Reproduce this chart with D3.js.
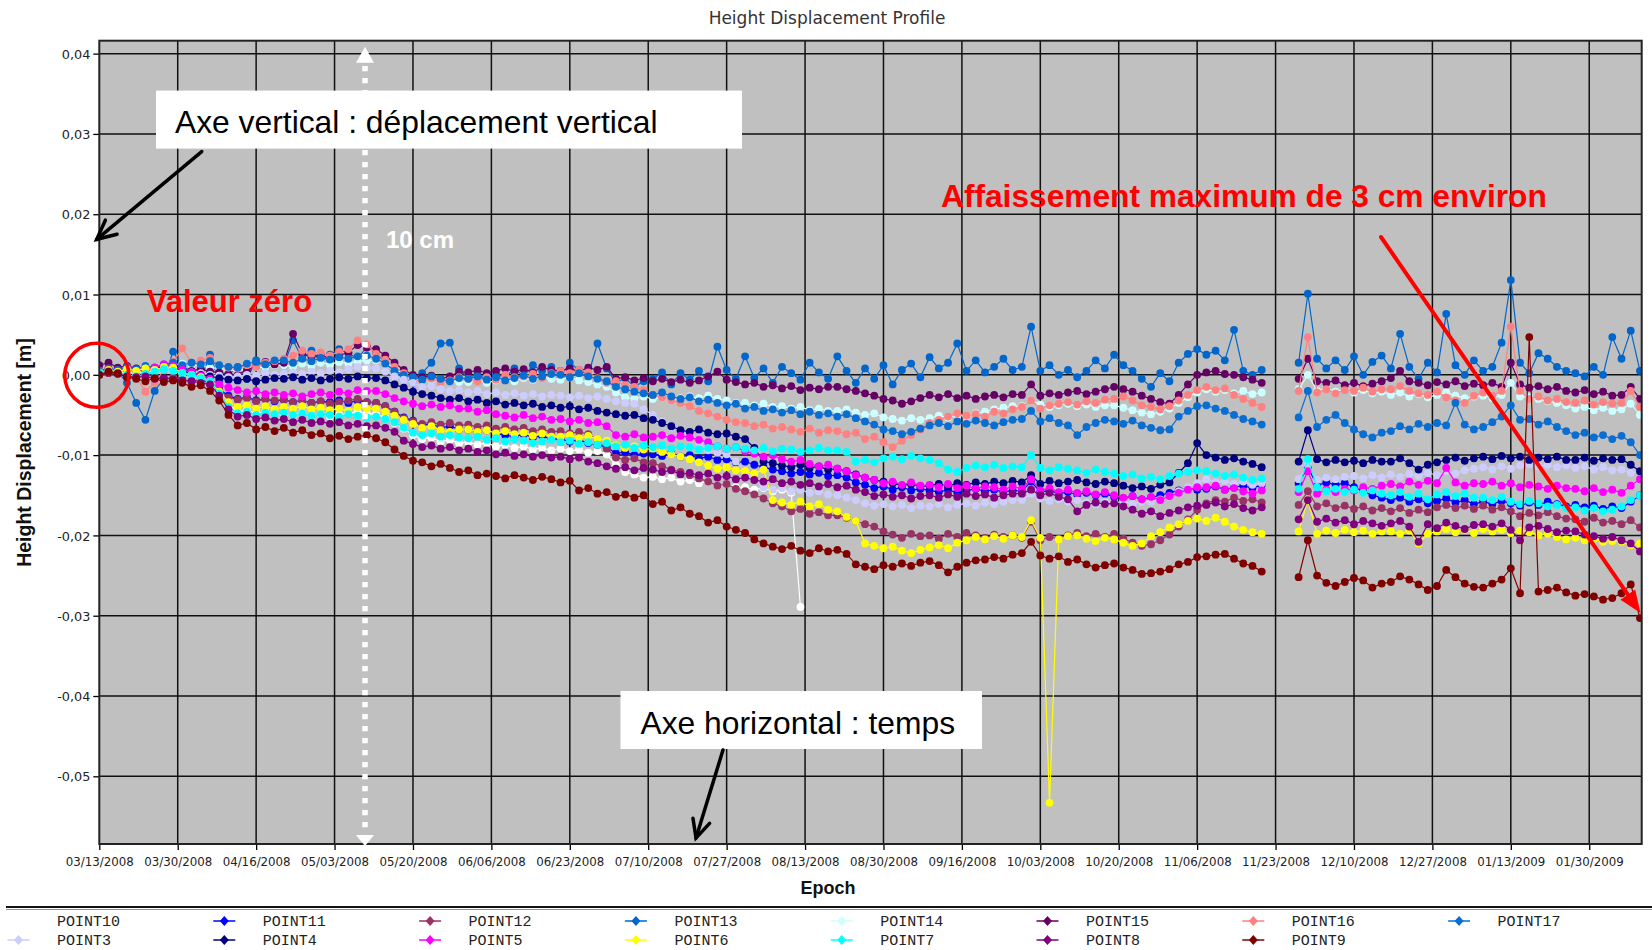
<!DOCTYPE html>
<html>
<head>
<meta charset="utf-8">
<script src="https://cdn.jsdelivr.net/npm/d3@7"></script>
<style>
  body { margin: 0; background: #fff; }
  svg { display: block; }
</style>
</head>
<body>
<svg id="chart" width="1652" height="950"></svg>
<script>
// ---- Survey epochs: one sample every two days from the first epoch ----
const firstEpoch = new Date(2008, 2, 13);
const lastEpoch = new Date(2009, 1, 10, 9);
const stepDays = 2;

// Date ticks (every 17 days) and height ticks
const xTickLabels = ["03/13/2008","03/30/2008","04/16/2008","05/03/2008","05/20/2008","06/06/2008","06/23/2008","07/10/2008","07/27/2008","08/13/2008","08/30/2008","09/16/2008","10/03/2008","10/20/2008","11/06/2008","11/23/2008","12/10/2008","12/27/2008","01/13/2009","01/30/2009"];
const yTickValues = [-0.05, -0.04, -0.03, -0.02, -0.01, 0, 0.01, 0.02, 0.03, 0.04];

// Height displacement per point, in millimetres (null = no solution)
const point3 = [0.2,0.4,0.3,0.5,0.4,0.6,0.5,0.8,0.7,0.5, 0.3,0.2,0.0,-0.1,-0.3,-0.2,0.0,-0.1,0.2,0.0, 0.1,0.3,0.1,0.4,0.2,0.5,0.3,0.7,1.0,0.9, 0.8,0.4,-0.2,-0.6,-1.0,-1.5,-1.4,-1.8,-2.0,-1.9, -2.2,-2.0,-2.4,-2.2,-2.5,-2.3,-2.6,-2.4,-2.7,-2.5, -2.6,-2.8,-2.6,-2.9,-2.7,-3.0,-3.3,-3.5,-3.6,-4.3, -5.0,-5.8,-6.5,-7.0,-7.5,-8.4,-9.4,-9.7,-9.9,-10.8, -12.0,-13.0,-14.0,-14.3,-14.1,-14.5,-14.3,-14.7,-14.5,-14.9, -15.0,-15.3,-15.6,-16.0,-16.3,-16.1,-16.4,-16.2,-16.6,-16.3, -16.4,-16.1,-16.5,-16.2,-16.0,-16.3,-15.9,-16.1,-15.8,-15.6, -15.6,-14.8,-15.4,-15.7,-15.5,-15.8,-15.6,-15.9,-16.1,-15.8, -16.0,-15.7,-16.1,-15.8,-15.8,-15.5,-15.1,-14.5,-14.0,-13.5, -13.0,-13.4,-13.2,-13.6,-13.3,-13.7,-13.5,null,null,null, -13.0,-11.2,-13.1,-12.8,-13.0,-12.7,-12.6,-12.9,-12.5,-12.8, -12.4,-12.7,-12.3,-12.6,-12.2,-12.5,-12.0,-12.3,-11.9,-11.7, -11.5,-11.8,-11.4,-11.7,-11.3,-11.1,-11.4,-11.2,-11.5,-11.3, -11.6,-11.4,-11.8,-11.5,-11.9,-11.8,-12.2,-12.0];
const point4 = [0.3,0.6,0.4,0.7,0.5,0.6,0.8,1.0,0.9,0.5, 0.2,0.0,-0.2,-0.4,-0.6,-0.7,-0.5,-0.8,-0.6,-0.4, -0.5,-0.3,-0.6,-0.4,-0.7,-0.5,-0.3,-0.5,-0.2,-0.4, -0.4,-0.7,-1.2,-1.6,-2.1,-2.4,-2.6,-2.9,-3.1,-2.9, -3.3,-3.1,-3.5,-3.3,-3.7,-3.5,-3.8,-3.6,-4.0,-3.8, -4.1,-3.9,-4.3,-4.1,-4.5,-4.7,-4.9,-5.1,-5.0,-5.4, -5.6,-6.0,-6.4,-6.9,-7.1,-6.8,-7.2,-7.4,-7.3,-7.7, -8.0,-9.1,-10.8,-11.0,-11.3,-11.5,-11.2,-11.6,-11.4,-11.8, -11.7,-12.0,-12.4,-12.8,-13.1,-13.3,-13.5,-13.8,-13.6,-13.9, -13.8,-13.6,-13.9,-13.5,-13.7,-13.4,-13.6,-13.3,-13.5,-13.2, -13.4,-12.5,-13.6,-13.2,-13.5,-13.3,-13.1,-13.4,-13.6,-13.3, -13.5,-13.8,-14.1,-13.9,-14.2,-13.7,-13.4,-12.2,-11.0,-8.5, -10.0,-10.3,-10.6,-10.4,-10.8,-11.1,-11.5,null,null,null, -10.8,-6.9,-10.5,-10.9,-10.6,-10.9,-10.7,-11.0,-10.6,-10.8, -10.8,-10.4,-11.0,-11.8,-11.2,-10.9,-10.6,-10.3,-10.7,-10.4, -10.2,-10.5,-10.1,-10.4,-10.2,-10.6,-10.3,-10.5,-10.2,-10.6, -10.6,-10.3,-10.7,-10.4,-10.6,-10.5,-11.2,-12.0];
const point5 = [0.3,0.6,0.4,0.8,0.5,0.7,0.9,1.3,1.1,0.6, 0.3,-0.1,-0.5,-1.2,-1.6,-1.9,-2.2,-2.0,-2.4,-2.2, -2.5,-2.3,-2.7,-2.4,-2.2,-2.5,-2.1,-2.3,-1.9,-2.0, -2.0,-2.4,-2.9,-3.3,-3.6,-3.9,-3.7,-4.0,-3.8,-4.2, -4.2,-4.6,-4.4,-4.9,-5.1,-5.3,-5.0,-5.4,-5.2,-5.6, -5.5,-5.8,-5.6,-6.0,-5.9,-6.4,-7.5,-7.7,-7.4,-7.8, -7.7,-7.5,-7.9,-7.6,-7.8,-8.1,-8.4,-8.9,-9.2,-9.0, -9.5,-9.8,-10.2,-10.0,-10.5,-10.8,-10.6,-11.1,-11.4,-11.2, -11.7,-12.0,-12.5,-12.8,-13.1,-13.5,-13.3,-13.7,-13.4,-13.8, -13.7,-14.0,-13.6,-14.1,-13.8,-14.2,-13.9,-14.0,-14.3,-13.9, -14.2,-13.0,-14.4,-14.1,-14.6,-14.3,-14.7,-14.5,-14.9,-14.6, -15.0,-15.3,-15.1,-15.5,-15.2,-15.6,-15.1,-14.7,-14.3,-14.0, -14.0,-13.8,-14.3,-14.1,-14.5,-14.8,-14.4,null,null,null, -14.6,-12.0,-14.8,-14.3,-14.6,-14.2,-14.4,-14.0,-14.2,-13.8, -13.6,-13.9,-13.3,-13.7,-13.2,-13.5,-11.6,-13.4,-13.8,-13.5, -13.6,-13.3,-13.8,-13.5,-14.0,-13.7,-13.9,-14.2,-13.8,-14.1, -14.2,-14.5,-14.1,-14.6,-14.3,-14.7,-13.8,-13.0];
const point6 = [0.3,0.6,0.4,0.7,0.5,0.8,0.6,1.0,0.9,0.2, 0.0,-0.3,-0.8,-2.1,-3.4,-4.0,-3.8,-4.2,-3.9,-4.3, -4.0,-4.2,-3.9,-4.3,-4.1,-4.4,-4.2,-4.5,-4.0,-4.2, -4.2,-4.6,-5.1,-5.6,-6.1,-6.6,-6.4,-6.9,-7.1,-6.8, -6.8,-7.1,-6.9,-7.3,-7.0,-7.4,-7.2,-7.6,-7.3,-7.7, -7.7,-7.5,-7.9,-7.6,-8.0,-8.2,-8.8,-9.1,-8.9,-9.3, -9.2,-9.6,-9.9,-10.2,-10.5,-10.9,-11.3,-11.7,-11.5,-11.9, -12.0,-12.3,-11.8,-15.6,-15.9,-16.2,-15.8,-16.4,-16.1,-16.8, -17.0,-17.7,-18.2,-21.0,-21.3,-21.6,-21.4,-21.9,-22.2,-21.8, -21.5,-21.2,-21.6,-20.9,-20.6,-20.2,-20.5,-20.1,-20.4,-20.0, -20.2,-18.1,-20.3,-53.3,-20.5,-20.1,-20.0,-20.4,-20.7,-20.3, -20.5,-20.9,-21.3,-21.0,-20.1,-19.6,-19.0,-18.6,-18.2,-17.9, -18.2,-17.8,-18.3,-18.9,-19.3,-19.6,-19.8,null,null,null, -19.5,-15.6,-19.8,-19.4,-19.7,-19.3,-19.6,-19.4,-19.8,-19.5, -19.5,-19.8,-19.4,-21.0,-19.8,-19.5,-19.2,-19.6,-19.3,-19.7, -19.2,-19.5,-19.3,-19.7,-19.4,-19.6,-20.0,-19.8,-20.2,-20.5, -20.3,-20.6,-20.4,-20.8,-20.7,-20.8,-21.2,-21.0];
const point7 = [0.3,0.5,0.2,0.0,-0.2,0.1,0.4,0.7,0.5,0.2, 0.0,-0.4,-0.8,-2.3,-4.0,-4.8,-4.6,-5.0,-4.7,-4.9, -4.7,-5.0,-4.8,-5.1,-4.9,-5.0,-5.2,-4.9,-5.1,-5.3, -5.2,-5.5,-5.9,-6.6,-7.2,-7.5,-7.3,-7.7,-7.5,-7.8, -7.9,-7.7,-8.1,-7.9,-8.3,-8.0,-8.2,-8.5,-8.3,-8.1, -8.4,-8.2,-8.6,-8.4,-8.7,-8.5,-8.9,-8.7,-9.1,-8.8, -9.0,-8.8,-9.2,-8.9,-9.0,-9.3,-9.1,-8.9,-9.2,-9.0, -9.2,-9.4,-9.1,-9.5,-9.2,-9.3,-9.6,-9.4,-9.1,-9.4, -9.4,-9.6,-10.8,-10.6,-10.9,-10.4,-10.2,-10.5,-10.1,-10.4, -10.6,-11.0,-11.8,-12.1,-11.6,-11.3,-11.5,-11.2,-11.6,-11.4, -11.5,-10.0,-11.6,-11.9,-11.5,-11.7,-11.9,-12.2,-11.8,-12.1, -12.3,-12.6,-12.4,-12.9,-12.7,-13.0,-12.6,-12.3,-12.1,-11.9, -12.0,-12.3,-12.6,-12.4,-12.8,-13.1,-12.9,null,null,null, -14.2,-10.5,-14.0,-14.5,-14.2,-14.6,-14.3,-14.7,-14.4,-14.8, -15.0,-14.6,-15.2,-14.8,-15.5,-14.9,-14.6,-15.1,-14.8,-15.3, -15.3,-15.6,-15.2,-15.8,-16.1,-15.7,-16.0,-16.4,-16.2,-16.6, -16.5,-16.9,-16.6,-17.0,-16.8,-16.4,-15.6,-15.0];
const point8 = [0.0,0.3,0.1,-0.2,-0.3,-0.2,-0.5,-0.4,-0.6,-0.7, -0.8,-1.0,-1.2,-2.6,-4.3,-5.2,-5.0,-5.5,-5.3,-5.7, -5.5,-5.9,-5.6,-6.0,-5.8,-6.1,-5.9,-6.3,-6.1,-6.4, -6.3,-6.6,-7.1,-8.2,-8.6,-9.0,-8.8,-9.2,-9.0,-9.4, -9.2,-9.6,-9.4,-9.9,-9.7,-10.1,-9.9,-10.2,-10.0,-10.3, -10.2,-10.5,-10.3,-10.8,-11.0,-11.4,-11.7,-11.5,-11.9,-11.6, -11.8,-12.1,-11.9,-12.4,-12.2,-12.5,-12.3,-12.8,-12.6,-13.0, -12.8,-13.1,-13.3,-13.0,-13.5,-13.3,-13.7,-13.5,-13.9,-13.6, -14.0,-13.8,-14.3,-14.6,-15.1,-14.9,-15.2,-15.0,-15.4,-15.1, -15.0,-15.3,-14.9,-15.2,-14.8,-15.1,-14.9,-15.3,-15.0,-14.8, -14.8,-14.3,-15.0,-14.7,-15.2,-15.5,-17.0,-16.2,-15.9,-16.1, -16.0,-16.4,-16.8,-17.3,-17.0,-17.6,-17.2,-16.9,-16.5,-16.3, -16.2,-15.9,-16.4,-16.1,-16.6,-16.9,-16.5,null,null,null, -18.0,-15.6,-18.3,-17.9,-18.4,-18.1,-18.6,-18.2,-18.5,-18.8, -18.5,-18.2,-18.9,-20.8,-18.6,-19.1,-18.4,-18.8,-19.2,-18.7, -18.6,-18.9,-18.5,-19.3,-20.6,-19.0,-18.8,-19.2,-19.6,-19.4, -19.5,-19.9,-20.1,-20.4,-20.2,-20.6,-21.0,-22.0];
const point9 = [0.0,0.4,0.2,-0.3,-0.5,-0.8,-0.4,-0.9,-0.7,-1.0, -1.5,-1.3,-2.0,-3.2,-5.0,-6.3,-6.0,-6.8,-6.5,-7.0, -6.6,-7.2,-6.9,-7.5,-7.3,-7.9,-7.6,-8.0,-7.7,-7.5, -7.9,-8.4,-9.3,-10.1,-10.7,-10.9,-11.4,-11.1,-11.6,-12.1, -11.9,-12.5,-12.3,-12.6,-12.9,-12.5,-12.8,-13.1,-12.7,-13.0, -13.4,-13.2,-14.4,-14.1,-14.8,-14.6,-15.2,-14.9,-15.3,-15.0, -16.1,-15.8,-16.9,-16.5,-17.3,-17.6,-18.4,-18.1,-18.9,-19.3, -19.7,-20.5,-21.0,-21.4,-21.7,-21.3,-21.9,-22.2,-21.6,-22.0, -21.8,-22.3,-23.6,-23.9,-24.2,-23.7,-23.9,-23.5,-23.8,-23.4, -23.2,-23.7,-24.6,-23.9,-23.4,-23.1,-23.0,-22.7,-22.9,-22.4, -22.2,-20.8,-22.5,-22.9,-22.6,-23.3,-23.0,-23.6,-24.0,-23.7, -23.5,-24.0,-24.3,-24.8,-24.7,-24.5,-24.2,-23.6,-23.3,-22.7, -22.6,-22.4,-22.3,-22.9,-23.5,-23.8,-24.5,null,null,null, -25.2,-20.6,-25.0,-25.9,-26.3,-25.8,-25.3,-25.6,-26.5,-26.0, -25.8,-25.1,-25.5,-26.1,-26.8,-26.3,-24.3,-25.2,-26.0,-26.4, -26.5,-26.0,-25.5,-24.1,-27.2,4.7,-27.0,-26.8,-26.5,-27.1, -27.5,-27.3,-27.6,-28.0,-27.8,-27.2,-26.1,-30.3];
const point10 = [0.1,0.3,0.2,0.4,0.3,0.5,0.4,0.6,0.5,0.2, 0.0,-0.4,-0.9,-1.8,-3.6,-4.6,-4.4,-4.8,-4.6,-4.9, -4.8,-5.0,-4.7,-5.1,-4.9,-5.2,-5.0,-4.8,-4.6,-4.8, -4.9,-5.3,-6.0,-6.7,-7.5,-8.0,-7.8,-8.3,-8.1,-8.5, -8.4,-8.7,-8.5,-8.9,-8.7,-9.1,-8.9,-9.3,-9.1,-9.4, -9.2,-9.5,-9.3,-9.7,-9.5,-9.9,-11.2,-12.1,-12.4,-12.8, -12.7,-13.0,-12.8,-13.3,-13.1,-13.5,-13.3,-13.8,-13.6,-14.0, -14.0,-14.3,-14.1,-14.5,-14.3,-14.7,-28.9];
const point11 = [0.2,0.5,0.3,0.6,0.4,0.7,0.6,1.0,0.8,0.4, 0.2,-0.3,-0.9,-1.8,-2.6,-3.0,-2.8,-3.2,-3.0,-3.3, -3.1,-3.4,-3.2,-3.5,-3.3,-3.4,-3.2,-3.5,-3.2,-3.4, -3.5,-3.9,-4.6,-5.3,-5.7,-6.3,-6.1,-6.6,-6.4,-6.8, -6.8,-7.1,-6.9,-7.3,-7.5,-7.7,-7.4,-7.8,-7.6,-8.0, -8.0,-8.3,-8.1,-8.5,-8.7,-9.0,-9.8,-9.6,-10.0,-9.8, -9.9,-10.1,-9.8,-10.2,-10.0,-10.4,-10.2,-10.6,-10.5,-10.9, -10.8,-11.2,-11.5,-11.8,-12.0,-12.3,-12.1,-12.4,-12.2,-12.6, -12.5,-12.8,-13.4,-13.7,-14.1,-13.9,-14.3,-14.0,-14.4,-14.2, -14.4,-14.6,-14.3,-14.7,-14.4,-14.2,-14.5,-14.3,-14.6,-14.4, -14.5,-13.3,-14.6,-14.4,-14.8,-14.6,-14.9,-14.7,-15.0,-14.8, -15.2,-15.4,-15.1,-15.5,-15.3,-15.0,-14.7,-14.4,-14.1,-14.3, -14.2,-13.9,-14.3,-14.0,-13.8,-14.1,-13.7,null,null,null, -13.5,-11.5,-13.8,-13.4,-13.7,-13.5,-14.0,-14.5,-15.0,-15.3, -15.6,-15.3,-15.8,-15.5,-16.0,-15.7,-15.4,-15.9,-15.6,-16.1, -15.8,-16.1,-15.7,-16.0,-16.3,-15.9,-16.2,-15.8,-16.1,-16.4, -16.2,-16.5,-16.3,-16.7,-16.4,-16.6,-15.8,-15.0];
const point12 = [0.0,0.2,0.4,-0.1,-0.3,0.1,-0.2,-0.5,-0.3,-0.6, -0.8,-0.6,-1.1,-1.9,-2.8,-3.1,-2.9,-3.3,-3.0,-3.2, -3.1,-3.4,-3.2,-3.5,-3.3,-3.6,-3.4,-3.2,-3.0,-3.4, -3.5,-3.9,-4.6,-5.4,-5.8,-6.1,-5.9,-6.2,-6.0,-6.3, -6.2,-6.5,-6.3,-6.7,-6.5,-6.8,-6.6,-7.0,-6.8,-7.1, -7.0,-7.3,-7.1,-7.4,-8.1,-9.2,-10.3,-10.6,-10.4,-10.9, -11.0,-11.4,-11.8,-12.1,-12.5,-12.9,-13.3,-13.8,-13.6,-14.2, -14.5,-14.9,-15.4,-16.0,-16.4,-17.0,-16.7,-17.3,-17.1,-17.5, -17.5,-17.8,-18.2,-18.6,-18.9,-19.5,-19.9,-20.3,-19.8,-20.1, -20.0,-20.4,-19.8,-20.2,-19.7,-20.0,-20.3,-19.9,-20.2,-20.0, -20.3,-18.3,-20.6,-20.2,-20.4,-20.0,-19.7,-20.1,-19.8,-20.2, -19.8,-20.4,-20.9,-21.3,-21.1,-20.6,-19.9,-18.9,-18.0,-16.8, -16.0,-15.6,-15.8,-15.3,-15.7,-15.5,-15.9,null,null,null, -16.2,-14.5,-16.4,-16.0,-16.6,-16.3,-16.7,-16.4,-16.9,-16.6, -17.0,-16.6,-17.2,-16.8,-17.1,-16.5,-16.2,-16.6,-16.3,-16.7, -16.3,-16.8,-16.5,-17.0,-17.6,-17.2,-17.5,-17.1,-17.6,-17.9, -18.0,-18.3,-17.8,-18.4,-18.2,-18.6,-18.1,-19.0];
const point13 = [0.2,0.8,0.4,-1.0,-3.5,-5.6,-2.0,-0.5,2.9,1.0, 0.5,-0.6,2.5,-0.8,0.0,1.0,-0.5,1.8,0.9,1.5, 1.2,4.3,2.0,3.0,1.6,2.5,3.2,2.7,2.0,3.5, 2.8,1.5,0.5,-0.5,-1.0,0.2,1.5,3.9,4.0,0.8, -0.5,0.3,-0.8,0.0,-0.3,0.8,-0.2,1.2,0.5,1.0, -0.2,1.5,0.6,0.0,3.9,0.8,-1.0,-0.4,-1.5,-0.8, -0.5,0.3,-1.2,0.2,-0.6,0.5,-0.8,3.5,0.6,-0.5, 2.3,-0.4,0.8,-1.0,1.0,0.2,-0.6,1.5,0.3,-0.5, 2.3,0.5,-1.0,0.8,-0.5,1.2,-1.2,0.6,1.4,-0.3, 2.2,0.8,1.5,3.9,0.5,1.8,0.3,1.0,2.0,0.6, 1.0,6.0,0.5,1.2,0.0,0.6,-0.3,0.5,1.8,0.8, 2.5,1.2,0.5,-0.5,-1.5,0.2,-0.8,1.5,2.6,3.2, 2.5,3.0,1.8,5.6,0.5,0.0,0.6,null,null,null, 1.5,10.1,2.0,0.8,1.8,0.6,2.3,0.0,1.6,2.4, 0.8,5.1,1.0,-0.5,1.5,0.3,7.6,1.2,0.0,1.8, 0.5,1.0,4.0,11.8,1.5,0.2,2.7,2.0,1.0,0.5, 0.2,-0.2,1.0,0.0,4.7,2.0,5.5,0.5];
const point14 = [0.2,0.4,0.1,0.3,0.2,0.5,0.7,1.0,1.2,1.4, 1.3,1.1,0.9,0.8,0.6,0.5,0.8,1.0,0.9,1.2, 1.2,1.0,1.4,1.1,1.5,1.3,1.6,1.4,1.7,1.8, 1.8,1.5,0.8,0.1,-0.5,-0.8,-0.6,-1.0,-0.7,-0.9, -0.9,-0.6,-1.0,-0.7,-0.5,-0.8,-0.4,-0.6,-0.3,-0.5, -0.6,-0.3,-0.7,-0.9,-1.2,-1.5,-2.2,-2.8,-3.0,-2.7, -3.0,-2.8,-3.2,-2.9,-2.7,-2.9,-2.6,-3.0,-3.2,-3.5, -3.5,-3.8,-3.6,-4.0,-3.9,-4.2,-4.0,-4.4,-4.2,-4.5, -4.5,-4.3,-4.7,-5.0,-4.8,-5.3,-5.5,-5.7,-5.4,-5.6, -5.4,-5.1,-5.3,-5.0,-5.2,-4.8,-4.6,-4.3,-4.1,-3.9, -3.9,-3.2,-3.7,-4.0,-3.8,-3.6,-3.9,-3.7,-4.0,-3.8, -3.8,-4.1,-4.4,-4.7,-4.9,-4.6,-4.2,-3.5,-2.8,-2.2, -1.8,-2.1,-1.9,-2.3,-2.0,-2.4,-2.2,null,null,null, -1.8,0.0,-2.0,-1.7,-2.1,-1.8,-2.2,-1.9,-2.3,-2.1, -2.5,-2.2,-2.7,-2.4,-2.8,-2.5,-2.2,-2.6,-2.9,-2.7, -2.6,-2.9,-2.5,-1.0,-2.7,-2.8,-3.0,-3.3,-3.5,-3.8, -4.2,-4.0,-4.4,-4.1,-4.5,-4.3,-3.6,-5.0];
const point15 = [1.2,1.5,0.9,1.1,0.8,0.6,0.9,1.2,1.0,0.7, 0.5,0.7,0.4,0.3,0.1,0.0,0.6,1.1,1.6,1.3, 1.5,5.1,2.6,2.2,2.5,2.0,2.4,2.8,3.7,3.4, 3.2,2.4,1.5,0.6,0.0,-0.3,-0.1,-0.5,-0.2,0.4, 0.3,0.6,0.2,0.5,0.8,0.4,0.7,0.3,1.0,0.6, 0.5,0.8,0.4,0.9,0.6,1.0,-0.5,-0.3,-0.7,-0.4, -0.8,-0.5,-0.9,-0.6,-1.0,-0.7,-0.2,0.4,-0.6,-0.9, -1.2,-1.0,-1.5,-1.3,-1.7,-1.4,-1.9,-1.6,-1.8,-1.5, -1.5,-1.8,-2.0,-2.3,-2.6,-3.0,-3.2,-3.6,-3.3,-2.9, -2.5,-2.8,-2.4,-2.9,-2.6,-3.0,-2.7,-2.5,-2.8,-2.4, -2.5,-1.2,-2.6,-2.3,-2.5,-2.2,-2.0,-2.4,-2.1,-1.8, -1.5,-1.8,-2.1,-2.6,-3.0,-3.4,-3.6,-2.5,-1.2,0.0, 0.3,0.5,0.1,0.0,-0.3,-0.6,-1.0,null,null,null, -0.5,2.0,-0.8,-1.0,-0.7,-1.3,-1.0,-1.4,-1.1,-0.8, -0.4,0.5,-0.8,-1.0,-1.3,-0.9,-1.2,-0.8,-1.4,-1.1, -1.3,-1.0,-1.5,1.5,-1.2,-1.6,-1.4,-1.8,-1.5,-2.0, -2.2,-1.9,-2.4,-2.1,-2.6,-2.5,-1.5,-3.0];
const point16 = [0.5,0.7,0.3,0.0,-0.3,-2.1,-1.0,0.6,1.6,3.3, 1.5,1.8,2.1,1.2,0.9,0.8,1.2,1.0,1.5,1.7, 2.0,2.4,3.0,2.6,2.8,2.4,2.9,3.2,4.3,3.8, 2.6,1.9,1.0,0.2,-0.6,-0.8,-0.5,-1.0,-0.7,-0.3, -0.5,-0.8,-0.3,-0.6,0.0,-0.3,-0.2,0.1,-0.4,0.2, 0.5,0.2,0.6,0.3,-0.4,-1.0,-0.8,-1.3,-1.5,-1.9, -2.5,-2.8,-3.2,-3.5,-3.9,-4.5,-4.8,-5.2,-5.6,-5.9, -6.0,-6.4,-6.2,-6.7,-6.5,-6.8,-7.1,-6.7,-7.2,-6.9, -7.0,-7.4,-7.2,-8.0,-7.7,-8.4,-9.0,-8.2,-7.5,-6.8, -6.0,-5.6,-5.2,-4.8,-5.1,-4.9,-5.2,-4.6,-4.8,-4.3, -4.0,-3.2,-4.2,-3.8,-3.6,-3.4,-3.7,-3.3,-3.5,-3.1, -3.0,-2.7,-3.2,-3.8,-4.0,-4.3,-3.9,-3.2,-2.5,-1.9, -1.5,-1.9,-1.7,-2.5,-3.0,-3.5,-4.0,null,null,null, -2.0,4.7,-2.2,-1.8,-2.3,-1.9,-2.0,-1.6,-2.1,-1.8, -1.8,-1.4,-2.0,-2.3,-2.5,-2.1,-2.8,-3.2,-3.5,-2.6, -2.2,-2.6,-2.0,6.0,-2.0,-3.0,-2.7,-3.2,-3.0,-3.4, -3.5,-3.2,-3.7,-3.4,-3.6,-3.5,-2.0,-4.0];
const point17 = [0.5,0.8,0.6,1.0,0.7,1.1,0.9,1.3,1.5,1.2, 1.5,1.3,1.7,1.2,1.0,0.9,1.4,1.6,1.3,1.8, 1.8,1.5,2.0,1.7,2.1,1.9,2.2,2.0,2.3,2.4, 2.0,1.4,0.5,0.0,-0.3,-0.6,-0.2,-0.5,-0.8,-0.4, -0.5,-0.2,-0.6,-0.3,-0.7,-0.4,-0.1,-0.5,-0.2,0.1, 0.0,-0.3,0.2,-0.2,-0.5,-0.8,-1.5,-1.8,-2.1,-2.3, -2.5,-2.2,-2.7,-3.0,-2.8,-3.3,-3.1,-3.5,-3.8,-3.6, -4.2,-4.0,-4.5,-4.3,-4.7,-4.4,-4.9,-4.6,-5.0,-4.8, -5.2,-4.9,-5.4,-5.8,-6.2,-6.8,-7.0,-7.4,-7.1,-6.7, -6.3,-6.0,-6.4,-5.8,-6.1,-5.7,-6.0,-6.3,-5.9,-5.6, -5.5,-4.5,-5.8,-5.4,-6.0,-6.3,-7.5,-6.5,-6.0,-5.6, -5.8,-6.1,-5.7,-6.3,-6.6,-6.9,-6.8,-5.2,-4.5,-3.9, -3.8,-4.2,-4.5,-5.0,-5.5,-5.8,-6.2,null,null,null, -5.3,-2.0,-6.5,-5.6,-5.0,-6.0,-6.8,-7.4,-7.8,-7.2, -7.0,-6.4,-6.8,-6.1,-6.5,-6.0,-6.3,-3.5,-6.2,-6.8, -6.5,-5.9,-5.2,-3.8,-5.6,-5.5,-6.2,-5.8,-6.5,-7.0, -7.5,-7.2,-7.8,-7.5,-8.0,-7.6,-8.4,-10.0];

// Series in drawing / legend order
const seriesNames = ["POINT10","POINT11","POINT12","POINT13","POINT14","POINT15","POINT16","POINT17","POINT3","POINT4","POINT5","POINT6","POINT7","POINT8","POINT9"];
const seriesColors = ["#FFFFFF","#0000FF","#993366","#0066CC","#CCFFFF","#660066","#FF8080","#0A6ED1","#CCCCFF","#000080","#FF00FF","#FFFF00","#00FFFF","#800080","#800000"];
const seriesValues = [point10, point11, point12, point13, point14, point15, point16, point17, point3, point4, point5, point6, point7, point8, point9];

// ---- Layout ----
const svg = d3.select("#chart");
const W = 1652, H = 950;
const plot = { left: 99.3, right: 1641.7, top: 40.7, bottom: 844 };

const parseTick = d3.timeParse("%m/%d/%Y");
const xTicks = xTickLabels.map(parseTick);

const x = d3.scaleTime().domain([firstEpoch, lastEpoch]).range([plot.left, plot.right]);
const y = d3.scaleLinear().domain([-0.05843, 0.04161]).range([plot.bottom, plot.top]);

const fmtHeight = v => (v < -1e-9 ? "-" : "") + Math.abs(v).toFixed(2).replace(".", ",");

svg.append("rect").attr("width", W).attr("height", H).attr("fill", "#fff");

// Title
svg.append("text")
  .attr("x", 827).attr("y", 24)
  .attr("text-anchor", "middle")
  .attr("font-family", "DejaVu Sans").attr("font-size", 17)
  .attr("fill", "#333")
  .text("Height Displacement Profile");

// Plot area
svg.append("rect")
  .attr("x", plot.left).attr("y", plot.top)
  .attr("width", plot.right - plot.left).attr("height", plot.bottom - plot.top)
  .attr("fill", "#c0c0c0");

// Grid
const grid = svg.append("g").attr("stroke", "#111").attr("stroke-width", 1.5);
grid.selectAll("line.h").data(yTickValues).join("line")
  .attr("x1", plot.left).attr("x2", plot.right)
  .attr("y1", d => y(d)).attr("y2", d => y(d));
grid.selectAll("line.v").data(xTicks.slice(1)).join("line")
  .attr("x1", d => x(d)).attr("x2", d => x(d))
  .attr("y1", plot.top).attr("y2", plot.bottom);

// Axes
const gx = svg.append("g")
  .attr("transform", `translate(0,${plot.bottom})`)
  .call(d3.axisBottom(x).tickValues(xTicks).tickFormat(d3.timeFormat("%m/%d/%Y")).tickSize(6));
gx.select(".domain").remove();
gx.attr("font-family", "DejaVu Sans").attr("font-size", 11.8);
gx.selectAll("line").attr("stroke", "#000").attr("stroke-width", 1.3);
gx.selectAll("text").attr("y", 21.5).attr("dy", 0).attr("fill", "#222");

const gy = svg.append("g")
  .attr("transform", `translate(${plot.left},0)`)
  .call(d3.axisLeft(y).tickValues(yTickValues).tickFormat(fmtHeight).tickSize(6).tickPadding(3));
gy.select(".domain").remove();
gy.attr("font-family", "DejaVu Sans").attr("font-size", 12.8);
gy.selectAll("line").attr("stroke", "#000").attr("stroke-width", 1.3);
gy.selectAll("text").attr("dy", "0.36em").attr("fill", "#222");

// Axis titles
svg.append("text")
  .attr("transform", "translate(30.5,452.5) rotate(-90)")
  .attr("text-anchor", "middle")
  .attr("font-family", "Liberation Sans").attr("font-weight", "bold").attr("font-size", 19.5)
  .attr("fill", "#111")
  .text("Height Displacement [m]");
svg.append("text")
  .attr("x", 828).attr("y", 894)
  .attr("text-anchor", "middle")
  .attr("font-family", "Liberation Sans").attr("font-weight", "bold").attr("font-size", 18)
  .attr("fill", "#111")
  .text("Epoch");

// Series
svg.append("clipPath").attr("id", "plotClip")
  .append("rect")
  .attr("x", plot.left).attr("y", plot.top)
  .attr("width", plot.right - plot.left).attr("height", plot.bottom - plot.top);

const seriesLayer = svg.append("g").attr("clip-path", "url(#plotClip)");
const line = d3.line()
  .defined(d => d.v !== null)
  .x(d => x(d.date))
  .y(d => y(d.v / 1000));

seriesValues.forEach((vals, k) => {
  const pts = vals.map((v, i) => ({ date: d3.timeDay.offset(firstEpoch, i * stepDays), v }));
  const g = seriesLayer.append("g");
  g.append("path")
    .datum(pts)
    .attr("fill", "none")
    .attr("stroke", seriesColors[k])
    .attr("stroke-width", 1.2)
    .attr("d", line);
  g.selectAll("circle")
    .data(pts.filter(d => d.v !== null))
    .join("circle")
    .attr("cx", d => x(d.date))
    .attr("cy", d => y(d.v / 1000))
    .attr("r", 3.9)
    .attr("fill", seriesColors[k]);
});

// Plot frame
svg.append("rect")
  .attr("x", plot.left).attr("y", plot.top)
  .attr("width", plot.right - plot.left).attr("height", plot.bottom - plot.top)
  .attr("fill", "none").attr("stroke", "#222").attr("stroke-width", 2);

// ---- Legend ----
svg.append("line").attr("x1", 6).attr("x2", W).attr("y1", 907).attr("y2", 907)
  .attr("stroke", "#111").attr("stroke-width", 1.8);
svg.append("line").attr("x1", 6).attr("x2", W).attr("y1", 909.5).attr("y2", 909.5)
  .attr("stroke", "#9a9280").attr("stroke-width", 1.2);

const legendRowsOrder = [
  ["POINT10","POINT11","POINT12","POINT13","POINT14","POINT15","POINT16","POINT17"],
  ["POINT3","POINT4","POINT5","POINT6","POINT7","POINT8","POINT9"]
];
const legend = svg.append("g");
legendRowsOrder.forEach((row, r) => {
  row.forEach((name, c) => {
    const color = seriesColors[seriesNames.indexOf(name)];
    const cx = 18.5 + 205.8 * c;
    const cy = 921 + 19 * r;
    const item = legend.append("g").attr("transform", `translate(${cx},${cy})`);
    item.append("line").attr("x1", -11).attr("x2", 11).attr("stroke", color).attr("stroke-width", 1.5);
    item.append("path").attr("d", "M0,-5L4.5,0L0,5L-4.5,0Z").attr("fill", color);
    item.append("text")
      .attr("x", 38.5).attr("y", 4.5)
      .attr("font-family", "Liberation Mono").attr("font-size", 15)
      .attr("fill", "#222")
      .text(name);
  });
});

// ---- Annotations ----
const notes = svg.append("g");

function arrow(g, x1, y1, x2, y2, color, width, headLen, spread, filled) {
  const a = Math.atan2(y2 - y1, x2 - x1);
  const p1 = [x2 - headLen * Math.cos(a - spread), y2 - headLen * Math.sin(a - spread)];
  const p2 = [x2 - headLen * Math.cos(a + spread), y2 - headLen * Math.sin(a + spread)];
  const back = filled ? headLen * 0.8 : 0;
  g.append("line")
    .attr("x1", x1).attr("y1", y1)
    .attr("x2", x2 - back * Math.cos(a)).attr("y2", y2 - back * Math.sin(a))
    .attr("stroke", color).attr("stroke-width", width).attr("stroke-linecap", "round");
  if (filled) {
    g.append("path").attr("d", `M${x2},${y2}L${p1[0]},${p1[1]}L${p2[0]},${p2[1]}Z`).attr("fill", color);
  } else {
    g.append("path").attr("d", `M${p1[0]},${p1[1]}L${x2},${y2}L${p2[0]},${p2[1]}`)
      .attr("fill", "none").attr("stroke", color).attr("stroke-width", width)
      .attr("stroke-linejoin", "miter").attr("stroke-linecap", "round");
  }
}

// Vertical 10 cm scale marker
notes.append("line")
  .attr("x1", 365).attr("x2", 365).attr("y1", 66).attr("y2", 834)
  .attr("stroke", "#fff").attr("stroke-width", 5.5).attr("stroke-dasharray", "5.3,6.7");
notes.append("path").attr("d", "M365,46.7L374,62.7L356,62.7Z").attr("fill", "#fff");
notes.append("path").attr("d", "M365,846L374,835L356,835Z").attr("fill", "#fff");
notes.append("text")
  .attr("x", 386).attr("y", 248)
  .attr("font-family", "Liberation Sans").attr("font-weight", "bold").attr("font-size", 24)
  .attr("fill", "#fff")
  .text("10 cm");

// Axis explanation boxes
notes.append("rect").attr("x", 156).attr("y", 90.6).attr("width", 586).attr("height", 58).attr("fill", "#fff");
notes.append("text")
  .attr("x", 175).attr("y", 132.5)
  .attr("font-family", "Liberation Sans").attr("font-size", 31.8)
  .attr("fill", "#000")
  .text("Axe vertical : déplacement vertical");
arrow(notes, 201.7, 151.7, 96.7, 239.3, "#000", 3.5, 21, 0.45, false);

notes.append("rect").attr("x", 620.5).attr("y", 691).attr("width", 361.5).attr("height", 58).attr("fill", "#fff");
notes.append("text")
  .attr("x", 640.5).attr("y", 734)
  .attr("font-family", "Liberation Sans").attr("font-size", 31.8)
  .attr("fill", "#000")
  .text("Axe horizontal : temps");
arrow(notes, 723, 750, 696, 838, "#000", 3.5, 20, 0.45, false);

// Zero reference
notes.append("circle").attr("cx", 96.8).attr("cy", 375.3).attr("r", 32)
  .attr("fill", "none").attr("stroke", "#ff0000").attr("stroke-width", 3.5);
notes.append("text")
  .attr("x", 146.7).attr("y", 311.7)
  .attr("font-family", "Liberation Sans").attr("font-weight", "bold").attr("font-size", 31)
  .attr("fill", "#ff0000")
  .text("Valeur zéro");

// Maximum subsidence
notes.append("text")
  .attr("x", 941).attr("y", 206.7)
  .attr("font-family", "Liberation Sans").attr("font-weight", "bold").attr("font-size", 31.7)
  .attr("fill", "#ff0000")
  .text("Affaissement maximum de 3 cm environ");
arrow(notes, 1381, 237, 1640.5, 613, "#ff0000", 4, 24, 0.38, true);
</script>
</body>
</html>
